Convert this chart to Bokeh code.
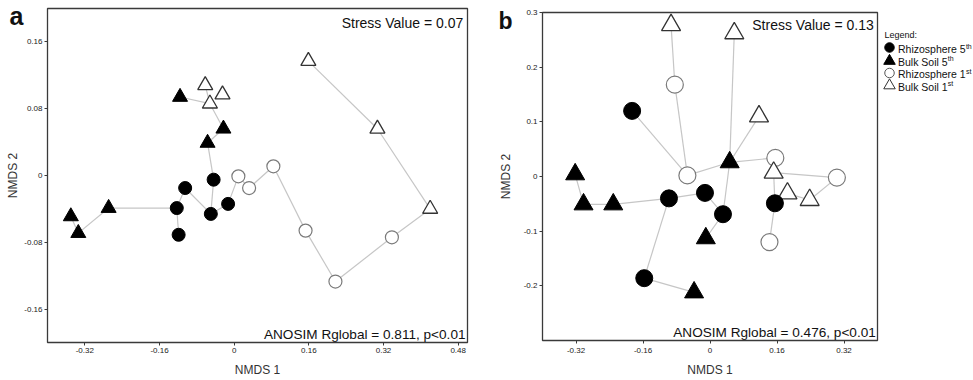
from bokeh.plotting import figure
from bokeh.models import Range1d, FixedTicker, GridBox, Row
from bokeh.embed import file_html
from bokeh.resources import INLINE
from bokeh.core.properties import value

FONT = "Liberation Sans"

# ---------------- Panel a data (NMDS 1, NMDS 2) ----------------
a_r5_x = [-0.123, -0.119, -0.105, -0.050, -0.044, -0.013]   # Rhizosphere 5th
a_r5_y = [-0.039, -0.071, -0.015, -0.046, -0.005, -0.034]
a_b5_x = [-0.350, -0.334, -0.269, -0.116, -0.057, -0.023]   # Bulk Soil 5th
a_b5_y = [-0.049, -0.069, -0.039, 0.094, 0.039, 0.056]
a_r1_x = [0.009, 0.032, 0.084, 0.153, 0.217, 0.338]         # Rhizosphere 1st
a_r1_y = [-0.001, -0.015, 0.011, -0.066, -0.127, -0.074]
a_b1_x = [-0.062, -0.025, -0.052, 0.159, 0.307, 0.420]      # Bulk Soil 1st
a_b1_y = [0.108, 0.097, 0.086, 0.137, 0.056, -0.040]
a_edges = [("B5", 0, "B5", 1), ("B5", 1, "B5", 2), ("B5", 2, "R5", 0),
           ("R5", 0, "R5", 1), ("R5", 0, "R5", 2), ("R5", 2, "R5", 3),
           ("R5", 3, "R5", 4), ("R5", 4, "B5", 4), ("R5", 3, "R5", 5),
           ("R5", 5, "R1", 0), ("R1", 0, "R1", 1), ("R1", 1, "R1", 2),
           ("R1", 2, "R1", 3), ("R1", 3, "R1", 4), ("R1", 4, "R1", 5),
           ("R1", 5, "B1", 5), ("B1", 5, "B1", 4), ("B1", 4, "B1", 3),
           ("B5", 4, "B5", 5), ("B5", 5, "B1", 2), ("B1", 2, "B1", 0),
           ("B5", 3, "B1", 2)]
a_x_ticks = [-0.32, -0.16, 0, 0.16, 0.32, 0.48]
a_x_labels = ["-0.32", "-0.16", "0", "0.16", "0.32", "0.48"]
a_y_ticks = [-0.16, -0.08, 0, 0.08, 0.16]
a_y_labels = ["-0.16", "-0.08", "0", "0.08", "0.16"]
a_stress = "Stress Value = 0.07"
a_anosim = "ANOSIM Rglobal = 0.811, p<0.01"

# ---------------- Panel b data ----------------
b_r5_x = [-0.186, -0.098, -0.012, 0.031, -0.157, 0.155]
b_r5_y = [0.120, -0.040, -0.030, -0.069, -0.186, -0.049]
b_b5_x = [-0.322, -0.302, -0.231, 0.047, -0.010, -0.038]
b_b5_y = [0.004, -0.051, -0.051, 0.026, -0.113, -0.212]
b_r1_x = [-0.084, -0.054, 0.156, 0.303, 0.142]
b_r1_y = [0.168, 0.002, 0.034, -0.002, -0.120]
b_b1_x = [-0.093, 0.058, 0.117, 0.152, 0.185, 0.238]
b_b1_y = [0.277, 0.262, 0.110, 0.007, -0.031, -0.043]
b_edges = [("B5", 0, "B5", 1), ("B5", 1, "B5", 2), ("B5", 2, "R5", 1),
           ("R5", 1, "R5", 2), ("R5", 1, "R5", 4), ("R5", 4, "B5", 5),
           ("R5", 2, "R5", 3), ("R5", 3, "B5", 4), ("R5", 3, "B5", 3),
           ("B5", 3, "B1", 1), ("B5", 3, "B1", 2), ("R1", 1, "B5", 3),
           ("B5", 3, "R1", 2), ("R1", 1, "R5", 0), ("R1", 1, "R1", 0),
           ("R1", 0, "B1", 0), ("R1", 2, "B1", 3), ("B1", 3, "R1", 3),
           ("R1", 3, "B1", 5), ("B1", 5, "B1", 4), ("B1", 4, "R5", 5),
           ("B1", 3, "R5", 5), ("R5", 5, "R1", 4)]
b_x_ticks = [-0.32, -0.16, 0, 0.16, 0.32]
b_x_labels = ["-0.32", "-0.16", "0", "0.16", "0.32"]
b_y_ticks = [-0.2, -0.1, 0, 0.1, 0.2, 0.3]
b_y_labels = ["-0.2", "-0.1", "0", "0.1", "0.2", "0.3"]
b_stress = "Stress Value = 0.13"
b_anosim = "ANOSIM Rglobal = 0.476, p<0.01"

panel_letters = ["a", "b"]
legend_title = "Legend:"
legend_names = ["Rhizosphere 5", "Bulk Soil 5", "Rhizosphere 1", "Bulk Soil 1"]
legend_sup = ["th", "th", "st", "st"]

EDGE = "#c6c6c6"
W, H = 973, 380


def style(p, xt, xl, yt, yl, xstand, ystand, xls, yls):
    p.xgrid.visible = False
    p.ygrid.visible = False
    p.outline_line_color = "#3a3a3a"
    p.outline_line_width = 1.3
    p.background_fill_color = "white"
    p.border_fill_color = "white"
    for ax, t, l, st, ls in ((p.xaxis[0], xt, xl, xstand, xls), (p.yaxis[0], yt, yl, ystand, yls)):
        ax.ticker = FixedTicker(ticks=t)
        ax.major_label_overrides = {float(k): s for k, s in zip(t, l)}
        ax.axis_line_color = None
        ax.major_tick_out = 3
        ax.major_tick_in = 0
        ax.major_tick_line_color = "#3a3a3a"
        ax.minor_tick_line_color = None
        ax.major_label_text_font = FONT
        ax.major_label_text_font_size = "8px"
        ax.major_label_text_color = "#1a1a1a"
        ax.major_label_standoff = st
        ax.axis_label_text_font = FONT
        ax.axis_label_text_font_size = "12px"
        ax.axis_label_text_font_style = "normal"
        ax.axis_label_text_color = "#333333"
        ax.axis_label_standoff = ls
    p.xaxis.axis_label = "NMDS 1"
    p.yaxis.axis_label = "NMDS 2"


def draw(p, groups, edges, csize, tsize):
    x0, y0, x1, y1 = [], [], [], []
    for g1, i, g2, j in edges:
        x0.append(groups[g1][0][i]); y0.append(groups[g1][1][i])
        x1.append(groups[g2][0][j]); y1.append(groups[g2][1][j])
    p.segment(x0=x0, y0=y0, x1=x1, y1=y1, line_color=EDGE, line_width=1.2)
    p.scatter(groups["R1"][0], groups["R1"][1], marker="circle", size=csize,
              fill_color="white", line_color="#7a7a7a", line_width=1.2)
    p.scatter(groups["B1"][0], groups["B1"][1], marker="triangle", size=tsize,
              fill_color="white", line_color="#333333", line_width=1.3)
    p.scatter(groups["R5"][0], groups["R5"][1], marker="circle", size=csize,
              fill_color="black", line_color="black")
    p.scatter(groups["B5"][0], groups["B5"][1], marker="triangle", size=tsize,
              fill_color="black", line_color="black")


# ---------------- Panel a ----------------
pa = figure(width=480, height=H, x_range=Range1d(-0.4, 0.5), y_range=Range1d(-0.2, 0.2),
            output_backend="svg", toolbar_location=None,
            min_border_left=47, min_border_right=13, min_border_top=8, min_border_bottom=38)
style(pa, a_x_ticks, a_x_labels, a_y_ticks, a_y_labels, 2, 2, 7, 1)
draw(pa, {"R5": (a_r5_x, a_r5_y), "B5": (a_b5_x, a_b5_y),
          "R1": (a_r1_x, a_r1_y), "B1": (a_b1_x, a_b1_y)}, a_edges, 13, 15)

# ---------------- Panel b ----------------
pb = figure(width=W - 480, height=H, x_range=Range1d(-0.4, 0.4), y_range=Range1d(-0.3, 0.3),
            output_backend="svg", toolbar_location=None,
            min_border_left=62, min_border_right=W - 480 - 62 - 335, min_border_top=12, min_border_bottom=40)
style(pb, b_x_ticks, b_x_labels, b_y_ticks, b_y_labels, 4, 2, 7, 8)
draw(pb, {"R5": (b_r5_x, b_r5_y), "B5": (b_b5_x, b_b5_y),
          "R1": (b_r1_x, b_r1_y), "B1": (b_b1_x, b_b1_y)}, b_edges, 17, 19)

# ---------------- Transparent overlay (page pixel coordinates) for all annotations ----------------
ov = figure(width=W, height=H, x_range=Range1d(0, W), y_range=Range1d(H, 0),
            output_backend="svg", toolbar_location=None, min_border=0,
            x_axis_location=None, y_axis_location=None, outline_line_color=None,
            background_fill_color=None, border_fill_color=None)
ov.xgrid.visible = False
ov.ygrid.visible = False


def otext(x, y, texts, size, align="left", bold=False):
    ov.text(x=x, y=y, text=texts, text_font=value(FONT), text_font_size=value(size),
            text_font_style="bold" if bold else "normal", text_baseline="middle",
            text_align=align, text_color="#111111")


otext([9], [15], panel_letters[:1], "25px", bold=True)
otext([498], [20], panel_letters[1:], "23px", bold=True)
otext([462.7], [22], [a_stress], "14px", align="right")
otext([465], [334], [a_anosim], "13.6px", align="right")
otext([873.3], [24], [b_stress], "14px", align="right")
otext([875.3], [332], [b_anosim], "13.6px", align="right")

key_y = [47, 60.5, 72.5, 85]
text_y = [48.5, 61, 73.5, 86]
ov.scatter(x=[889, 889, 889, 889], y=key_y, marker=["circle", "triangle", "circle", "triangle"],
           size=[9.5, 11.5, 9.5, 11.5], fill_color=["black", "black", "white", "white"],
           line_color=["black", "black", "#555555", "#333333"], line_width=1)
otext([884], [34], [legend_title], "9px")
otext([897.5] * 4, text_y, legend_names, "10.5px")
otext([897.5 + 67.9, 897.5 + 49.8, 897.5 + 67.9, 897.5 + 49.8], [v - 3 for v in text_y], legend_sup, "7px")

layout = GridBox(children=[(Row(children=[pa]), 0, 0), (Row(children=[pb]), 0, 1), (ov, 0, 0, 1, 2)])
open("out.html", "w").write(file_html(layout, INLINE))
